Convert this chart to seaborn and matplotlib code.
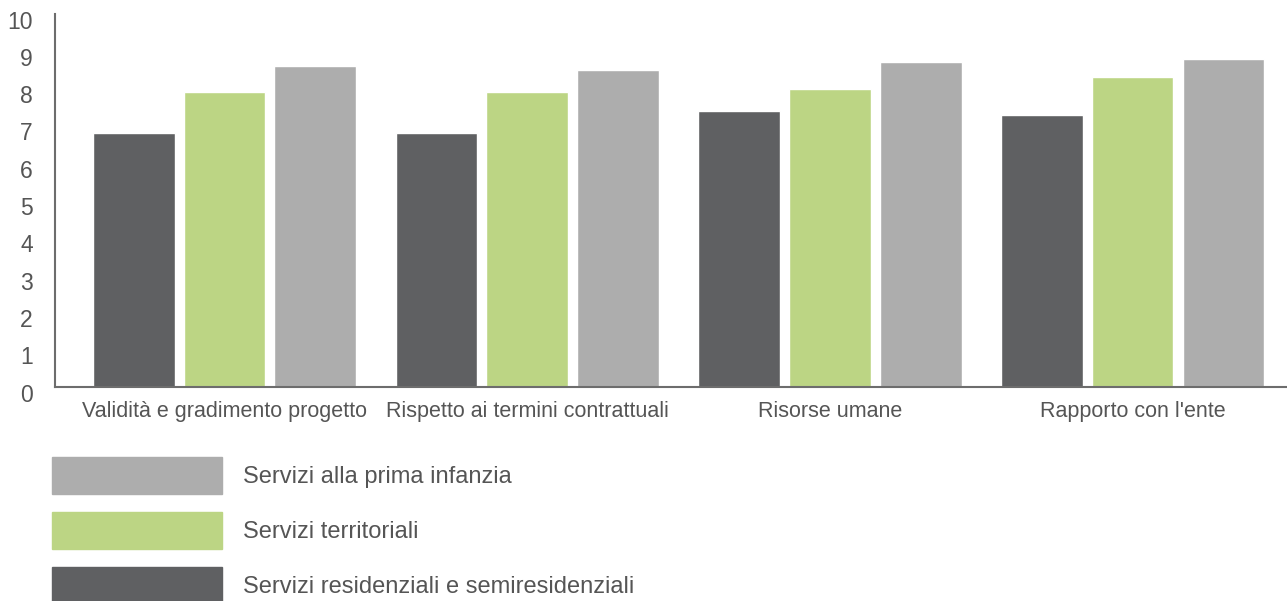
import matplotlib
matplotlib.use("Agg")
import matplotlib.pyplot as plt
import matplotlib.patches as mpatches
import matplotlib.transforms as mtransforms
import pandas as pd
import seaborn as sns

categories = ["Validità e gradimento progetto", "Rispetto ai termini contrattuali",
              "Risorse umane", "Rapporto con l'ente"]
series = ["Servizi residenziali e semiresidenziali", "Servizi territoriali",
          "Servizi alla prima infanzia"]
residenziali = [6.8, 6.8, 7.4, 7.3]
territoriali = [7.9, 7.9, 8.0, 8.3]
prima_infanzia = [8.6, 8.5, 8.7, 8.8]
colors = ["#5f6062", "#bcd584", "#adadad"]

df = pd.DataFrame({
    "categoria": categories * 3,
    "serie": [series[0]] * 4 + [series[1]] * 4 + [series[2]] * 4,
    "valore": residenziali + territoriali + prima_infanzia,
})

sns.set_style("white")
plt.rcParams["font.family"] = ["Liberation Sans", "DejaVu Sans"]
text_color = "#555555"

fig = plt.figure(figsize=(12.87, 6.01), dpi=100)
ax = fig.add_axes([55 / 1287, 1 - 387 / 601, 1 - 55 / 1287, (387 - 14) / 601])

sns.barplot(data=df, x="categoria", y="valore", hue="serie", hue_order=series,
            palette=colors, width=0.9, gap=0.1, saturation=1, legend=False, ax=ax)

ax.set_ylim(0, 10)
ax.set_xlim(-0.56, 3.51)
ax.set_yticks(range(0, 11))
ax.set_xlabel("")
ax.set_ylabel("")
ax.tick_params(axis="y", length=0, pad=16, labelsize=16.5, labelcolor=text_color)
ax.tick_params(axis="x", length=0, pad=10, labelsize=15.5, labelcolor=text_color)
# y labels sit a little below their gridline in the original
offset = mtransforms.ScaledTranslation(0, -4 / 72, fig.dpi_scale_trans)
for lbl in ax.get_yticklabels():
    lbl.set_transform(lbl.get_transform() + offset)
for s in ["top", "right"]:
    ax.spines[s].set_visible(False)
for s in ["left", "bottom"]:
    ax.spines[s].set_color("#6d6d6d")
    ax.spines[s].set_linewidth(1.5)

# legend: reversed order (prima infanzia on top)
handles = [mpatches.Patch(color=c, label=l) for c, l in zip(colors[::-1], series[::-1])]
fig.legend(handles=handles, loc="upper left", bbox_to_anchor=(52 / 1287, 1 - 457 / 601),
           frameon=False, fontsize=17, labelcolor=text_color, borderpad=0,
           borderaxespad=0, handlelength=7.2, handleheight=2.03,
           handletextpad=0.9, labelspacing=0.76)

fig.savefig("out.png", dpi=100)
